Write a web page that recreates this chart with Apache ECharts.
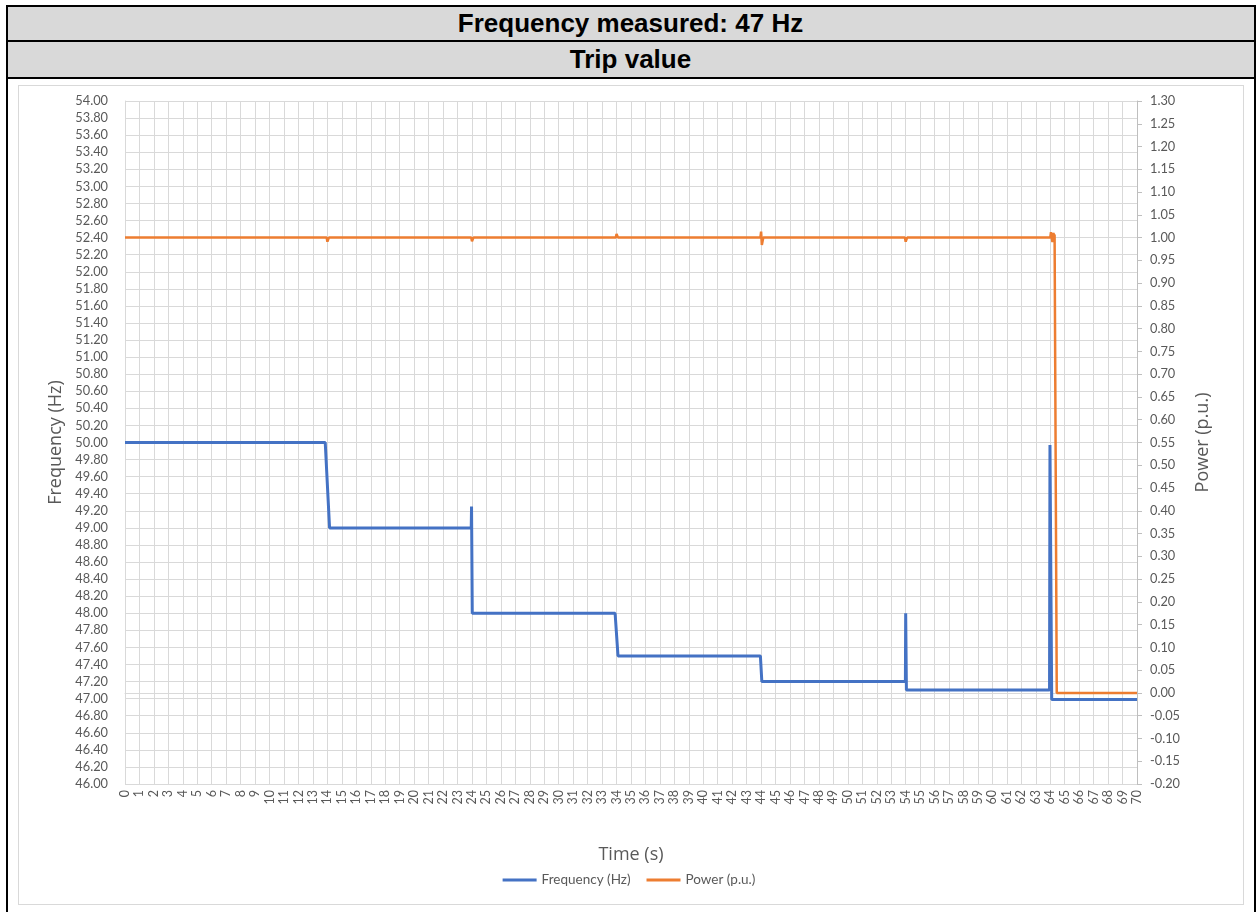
<!DOCTYPE html>
<html><head><meta charset="utf-8">
<script src="https://cdn.jsdelivr.net/npm/echarts@6/dist/echarts.min.js"></script>
<style>
html,body{margin:0;padding:0;width:1258px;height:912px;overflow:hidden;background:#fff;}
#chart{position:absolute;left:0;top:0;width:1258px;height:912px;}
.ov{position:absolute;box-sizing:border-box;pointer-events:none;}
.hdr{position:absolute;left:7px;width:1247px;background:#D9D9D9;font-family:"Liberation Sans",Arial,sans-serif;font-weight:bold;font-size:26px;color:#000;display:flex;align-items:center;justify-content:center;}
</style></head>
<body>
<div id="chart"></div>
<div class="hdr" style="top:7px;height:33px;">Frequency measured: 47 Hz</div>
<div class="hdr" style="top:42px;height:35px;">Trip value</div>
<div class="ov" style="left:6px;top:5px;width:1250px;height:930px;border:2px solid #000;"></div>
<div class="ov" style="left:6px;top:40px;width:1250px;height:2px;background:#000;"></div>
<div class="ov" style="left:6px;top:77px;width:1250px;height:2px;background:#000;"></div>
<div class="ov" style="left:18px;top:85px;width:1226px;height:820px;border:1px solid #D9D9D9;"></div>
<script>
// Frequency (Hz) trace
const timeFreq = [0, 3.95, 4.0, 4.05, 13.85, 14.15, 23.95, 23.97, 24.02, 33.9, 34.1, 43.95, 44.05, 53.98, 54.0, 54.05, 63.95, 63.98, 64.1, 70];
const freqHz   = [50.00, 50.00, 50.02, 50.00, 50.00, 49.00, 49.00, 49.25, 48.00, 48.00, 47.50, 47.50, 47.20, 47.20, 48.00, 47.10, 47.10, 49.97, 46.99, 46.99];
// Power (p.u.) trace
const timePower = [0, 13.95, 14.0, 14.1, 23.95, 24.0, 24.1, 33.95, 34.0, 34.1, 43.95, 44.0, 44.05, 44.15, 53.95, 54.0, 54.1, 64.0, 64.05, 64.15, 64.2, 64.3, 64.45, 70];
const powerPU   = [1.00, 1.00, 0.991, 1.00, 1.00, 0.992, 1.00, 1.00, 1.008, 1.00, 1.00, 1.013, 0.984, 1.00, 1.00, 0.991, 1.00, 1.00, 1.012, 0.99, 1.01, 1.005, 0.00, 0.00];
const seriesNames = ['Frequency (Hz)', 'Power (p.u.)'];
const freqAxis = {min: 46, max: 54, step: 0.2};
const powerAxis = {min: -0.2, max: 1.3, step: 0.05};
const timeAxis = {min: 0, max: 70, step: 1};

const zip = (xs, ys) => xs.map((x, i) => [x, ys[i]]);
const FONT = 'Lato, "Open Sans", sans-serif';
const NFONT = '"Open Sans", Lato, sans-serif';
const GREY = '#595959';
const chart = echarts.init(document.getElementById('chart'), null, {renderer: 'canvas'});
chart.setOption({
  animation: false,
  backgroundColor: '#fff',
  grid: {left: 125, right: 121, top: 101, bottom: 128, containLabel: false},
  legend: {
    data: seriesNames, top: 868, left: 'center', icon: 'rect', itemWidth: 34, itemHeight: 3, itemGap: 16,
    textStyle: {fontFamily: FONT, fontSize: 13.5, color: GREY}
  },
  xAxis: {
    type: 'value', min: timeAxis.min, max: timeAxis.max, interval: timeAxis.step,
    name: 'Time (s)', nameLocation: 'middle', nameGap: 62,
    nameTextStyle: {fontFamily: NFONT, fontSize: 18, color: GREY},
    axisLine: {show: true, lineStyle: {color: '#D9D9D9', width: 1}},
    axisTick: {show: false},
    axisLabel: {rotate: 90, fontFamily: FONT, fontSize: 12.5, color: GREY, margin: 6, showMinLabel: true, showMaxLabel: true, hideOverlap: false},
    splitLine: {show: true, lineStyle: {color: '#D9D9D9', width: 1}}
  },
  yAxis: [{
    type: 'value', position: 'left', min: freqAxis.min, max: freqAxis.max, interval: freqAxis.step,
    name: 'Frequency (Hz)', nameLocation: 'middle', nameGap: 49, nameRotate: 90,
    nameTextStyle: {fontFamily: NFONT, fontSize: 18, color: GREY},
    axisLine: {show: true, lineStyle: {color: '#D9D9D9'}},
    axisTick: {show: false},
    axisLabel: {fontFamily: FONT, fontSize: 12.8, color: GREY, margin: 17, formatter: v => v.toFixed(2)},
    splitLine: {show: true, lineStyle: {color: '#D9D9D9', width: 1}}
  }, {
    type: 'value', position: 'right', min: powerAxis.min, max: powerAxis.max, interval: powerAxis.step,
    name: 'Power (p.u.)', nameLocation: 'middle', nameGap: 57, nameRotate: 90,
    nameTextStyle: {fontFamily: NFONT, fontSize: 18, color: GREY},
    axisLine: {show: true, lineStyle: {color: '#BFBFBF'}},
    axisTick: {show: true, length: 5, lineStyle: {color: '#BFBFBF'}},
    axisLabel: {fontFamily: FONT, fontSize: 12.8, color: GREY, margin: 13, formatter: v => v.toFixed(2)},
    splitLine: {show: false}
  }],
  series: [{
    name: seriesNames[0], type: 'line', yAxisIndex: 0, data: zip(timeFreq, freqHz),
    symbol: 'none', lineStyle: {color: '#4472C4', width: 3}, itemStyle: {color: '#4472C4'}
  }, {
    name: seriesNames[1], type: 'line', yAxisIndex: 1, data: zip(timePower, powerPU),
    symbol: 'none', lineStyle: {color: '#ED7D31', width: 2.5}, itemStyle: {color: '#ED7D31'}
  }]
});
</script>
</body></html>
